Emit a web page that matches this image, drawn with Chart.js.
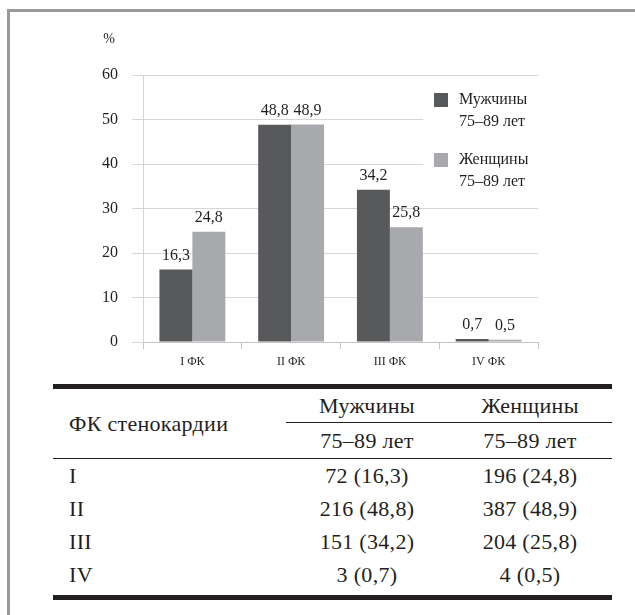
<!DOCTYPE html>
<html>
<head>
<meta charset="utf-8">
<script src="https://cdn.jsdelivr.net/npm/chart.js@4.4.0/dist/chart.umd.min.js"></script>
<style>
	body { margin: 0; background: #fff; width: 635px; height: 615px; overflow: hidden; position: relative; font-family: "Liberation Serif", serif; color: #231f20; }
	#frame { position: absolute; left: 7px; top: 9px; width: 700px; height: 700px; border-left: 3px solid #999; border-top: 3px solid #999; }
	#chartBox { position: absolute; left: 0; top: 0; width: 635px; height: 380px; }
	#tbl { position: absolute; left: 53px; top: 384px; width: 559px; border-collapse: separate; border-spacing: 0; table-layout: fixed;
		border-top: 5px solid #231f20; border-bottom: 5px solid #231f20; font-size: 22px; letter-spacing: 0.3px; }
	#tbl th, #tbl td { padding: 0; font-weight: normal; text-align: center; vertical-align: middle; }
	#tbl .first { text-align: left; padding-left: 16px; }
	#tbl tr.h1 { height: 34px; }
	#tbl tr.h2 { height: 36px; }
	#tbl tr.h1 th.sub { border-bottom: 1.5px solid #231f20; }
	#tbl tr.h2 th, #tbl th.first { border-bottom: 1.5px solid #231f20; }
	#tbl tbody tr { height: 33px; }
	#tbl tbody tr:last-child { height: 37px; }
	#tbl tbody tr:last-child td { padding-bottom: 4px; }
</style>
</head>
<body>
<div id="frame"></div>
<div id="chartBox"><canvas id="canvasChart" width="635" height="380"></canvas></div>
<table id="tbl">
	<colgroup><col style="width:233px"><col style="width:162px"><col style="width:164px"></colgroup>
	<thead>
		<tr class="h1"><th rowspan="2" class="first" id="hClass"></th><th class="sub" id="hMen"></th><th class="sub" id="hWomen"></th></tr>
		<tr class="h2"><th id="hMenAge"></th><th id="hWomenAge"></th></tr>
	</thead>
	<tbody></tbody>
</table>
<script>
"use strict";

var categories = ['I ФК', 'II ФК', 'III ФК', 'IV ФК'];
var seriesNames = ['Мужчины', 'Женщины'];
var ageGroup = '75–89 лет';
var menPercent = [16.3, 48.8, 34.2, 0.7];
var womenPercent = [24.8, 48.9, 25.8, 0.5];
var menCount = [72, 216, 151, 3];
var womenCount = [196, 387, 204, 4];
var rowLabels = ['I', 'II', 'III', 'IV'];
var tableTitle = 'ФК стенокардии';
var unitLabel = '%';

var barColors = ['#58595b', '#a7a9ac'];
var textColor = '#231f20';
var fontFamily = '"Liberation Serif", serif';

function FormatValue(v) {
	return v.toFixed(1).replace('.', ',');
}

// values above bars
var valueLabels = {
	id: 'valueLabels',
	afterDatasetsDraw: function (chart) {
		var ctx = chart.ctx;
		ctx.save();
		ctx.font = '16px ' + fontFamily;
		ctx.fillStyle = textColor;
		ctx.textAlign = 'center';
		ctx.textBaseline = 'bottom';
		chart.data.datasets.forEach(function (ds, i) {
			chart.getDatasetMeta(i).data.forEach(function (bar, j) {
				ctx.fillText(FormatValue(ds.data[j]), bar.x, bar.y - 6);
			});
		});
		ctx.restore();
	}
};

// legend sits over the top right of the plot, like in the original
var boxLegend = {
	id: 'boxLegend',
	afterDraw: function (chart) {
		var ctx = chart.ctx;
		var area = chart.chartArea;
		ctx.save();
		ctx.fillStyle = '#fff';
		ctx.fillRect(area.right - 115, area.top + 10, 117, 110);
		ctx.font = '16px ' + fontFamily;
		ctx.textBaseline = 'middle';
		ctx.textAlign = 'left';
		chart.data.datasets.forEach(function (ds, i) {
			var y = area.top + 18 + i * 60;
			ctx.fillStyle = ds.backgroundColor;
			ctx.fillRect(area.right - 104, y, 14, 14);
			ctx.fillStyle = textColor;
			ctx.fillText(ds.label, area.right - 79, y + 7);
			ctx.fillText(ageGroup, area.right - 79, y + 29);
		});
		ctx.font = '14px ' + fontFamily;
		ctx.textAlign = 'center';
		ctx.fillText(unitLabel, area.left - 34, area.top - 36);
		ctx.restore();
	}
};

const context = document.getElementById('canvasChart');
const myChart = new Chart(context, {
	type: 'bar',
	data: {
		labels: categories,
		datasets: [{
			label: seriesNames[0],
			data: menPercent,
			backgroundColor: barColors[0],
			categoryPercentage: 0.667,
			barPercentage: 1
		}, {
			label: seriesNames[1],
			data: womenPercent,
			backgroundColor: barColors[1],
			categoryPercentage: 0.667,
			barPercentage: 1
		}]
	},
	options: {
		responsive: false,
		animation: false,
		layout: { padding: { left: 0, right: 97, top: 75, bottom: 8 } },
		plugins: {
			legend: { display: false },
			tooltip: { enabled: false }
		},
		scales: {
			x: {
				grid: { drawOnChartArea: false, drawTicks: true, tickLength: 7, color: '#c4c4c4', offset: true },
				border: { color: '#c4c4c4' },
				ticks: { font: { family: fontFamily, size: 12 }, color: textColor, padding: 6 },
				afterFit: function (s) { s.height = 30; }
			},
			y: {
				min: 0,
				max: 60,
				ticks: { stepSize: 10, font: { family: fontFamily, size: 16 }, color: textColor, padding: 14 },
				grid: { color: '#d6d6d6', tickLength: 11 },
				border: { color: '#d6d6d6' },
				afterFit: function (s) { s.width = 143; }
			}
		}
	},
	plugins: [valueLabels, boxLegend]
});

// table under the chart
document.getElementById('hClass').textContent = tableTitle;
document.getElementById('hMen').textContent = seriesNames[0];
document.getElementById('hWomen').textContent = seriesNames[1];
document.getElementById('hMenAge').textContent = ageGroup;
document.getElementById('hWomenAge').textContent = ageGroup;

var tbody = document.querySelector('#tbl tbody');
rowLabels.forEach(function (name, i) {
	var tr = document.createElement('tr');
	tr.innerHTML = '<td class="first">' + name + '</td>' +
		'<td>' + menCount[i] + ' (' + FormatValue(menPercent[i]) + ')</td>' +
		'<td>' + womenCount[i] + ' (' + FormatValue(womenPercent[i]) + ')</td>';
	tbody.appendChild(tr);
});
</script>
</body>
</html>
